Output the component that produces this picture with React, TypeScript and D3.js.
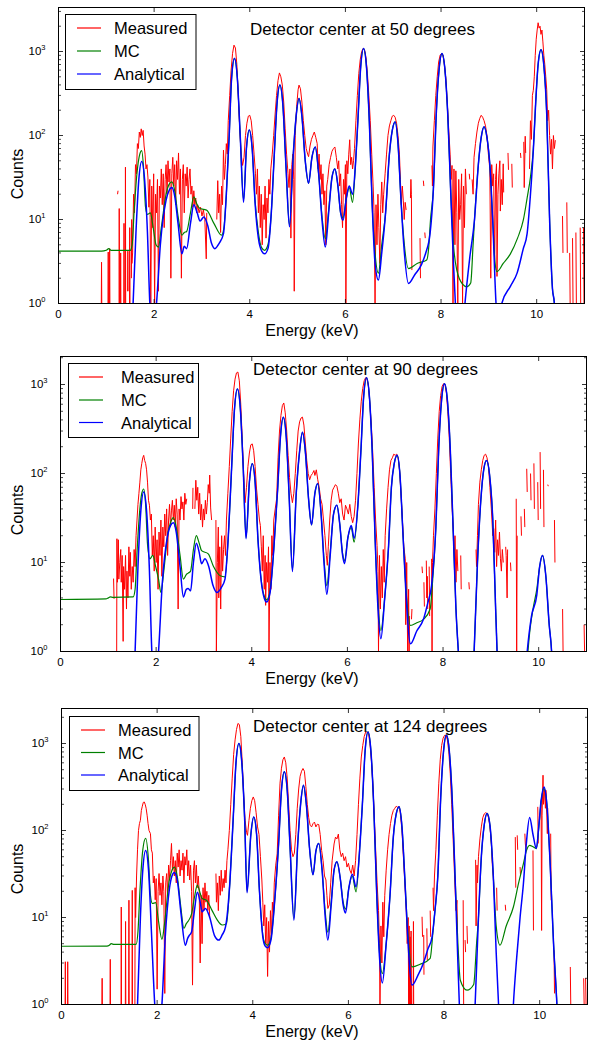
import React from "react";
import * as d3 from "d3";

type P = [number, number];

// ---------- text / categories ----------
const seriesNames = ["Measured", "MC", "Analytical"];
const panelTitles = [
  "Detector center at 50 degrees",
  "Detector center at 90 degrees",
  "Detector center at 124 degrees",
];
const xLabel = "Energy (keV)";
const yLabel = "Counts";
const xTicks = [0, 2, 4, 6, 8, 10];
const xDomain: [number, number] = [0, 11];
const yTickExps = [0, 1, 2, 3];

// ---------- 50 degrees ----------
const measured50: P[] = [
  [0.88,0],[0.895,1],[0.90,3.1],[0.905,1],[0.91,0],
  [1.03,0],[1.035,1],[1.04,4.1],[1.045,1],[1.05,0],[1.065,1],[1.07,4.5],[1.075,1],[1.08,0],
  [1.22,0],[1.235,20],[1.245,22],[1.25,0],
  [1.265,0],[1.267,1],[1.27,13.5],[1.275,1],[1.28,0],
  [1.29,0],[1.295,1],[1.30,4],[1.305,1],[1.31,0],
  [1.36,0],[1.365,1],[1.37,9],[1.375,1],[1.38,0],
  [1.39,0],[1.395,1],[1.40,42],[1.405,1],[1.41,0],
  [1.44,0],[1.445,1.4],[1.45,4.2],[1.455,1.4],[1.46,0],
  [1.48,0],[1.485,1],[1.49,8],[1.495,1],[1.50,0],
  [1.52,0],[1.525,2],[1.53,10],[1.535,3],[1.55,4],[1.57,20],[1.59,12],[1.61,45],[1.63,35],[1.65,80],[1.67,70],[1.69,110],[1.71,95],[1.73,120],[1.75,100],[1.77,115],[1.79,75],[1.81,60],[1.83,40],[1.85,45],[1.87,32],[1.89,14],[1.91,30],[1.93,1],[1.95,25],[1.97,8],[1.99,35],[2.01,1],[2.03,20],[2.05,12],[2.07,30],[2.09,1.4],[2.11,25],[2.13,18],[2.15,40],[2.17,15],[2.19,35],[2.21,8],[2.23,30],[2.25,45],[2.27,20],[2.29,50],[2.31,28],[2.33,40],[2.35,2],[2.37,35],[2.39,55],[2.41,25],[2.43,45],[2.45,15],[2.47,50],[2.49,30],[2.51,62],[2.53,20],[2.55,40],[2.57,2],[2.59,30],[2.61,45],[2.63,12],[2.65,35],[2.67,25],[2.69,42],[2.71,18],[2.73,30],[2.75,40],[2.77,20],[2.79,25],[2.81,14],[2.83,22],[2.85,15],[2.87,18],[2.89,12],[2.91,15],[2.94,12],[2.97,14],[3.00,11],[3.03,13],[3.06,10],[3.09,3.4],[3.10,12],[3.12,0],
  [3.30,0],[3.31,10],[3.33,29],[3.35,12],[3.37,20],[3.39,7],[3.41,25],[3.43,15],[3.45,67],[3.47,30],[3.49,45],[3.51,80],[3.53,60],[3.55,150],[3.58,300],[3.61,600],[3.64,950],[3.67,1190],[3.70,1100],[3.73,700],[3.76,300],[3.79,120],[3.82,60],[3.85,44],[3.88,55],[3.91,100],[3.94,140],[3.97,170],[4.00,174],[4.03,150],[4.06,100],[4.09,60],[4.12,35],[4.14,20],[4.16,40],[4.18,12],[4.20,25],[4.22,8],[4.24,20],[4.26,5],[4.28,15],[4.30,10],[4.32,25],[4.34,6],[4.36,18],[4.38,12],[4.40,30],[4.42,20],[4.44,40],[4.47,60],[4.50,100],[4.53,180],[4.56,300],[4.59,450],[4.62,556],[4.65,500],[4.68,400],[4.71,250],[4.74,120],[4.77,60],[4.80,35],[4.82,24],[4.84,40],[4.86,6],[4.88,45],[4.90,60],[4.92,30],[4.93,1.4],[4.95,100],[4.98,220],[5.01,350],[5.03,398],[5.06,360],[5.09,250],[5.12,150],[5.15,100],[5.18,70],[5.21,60],[5.23,56],[5.26,75],[5.29,90],[5.32,100],[5.35,110],[5.38,95],[5.41,80],[5.43,40],[5.45,60],[5.47,30],[5.49,45],[5.51,20],[5.53,35],[5.55,15],[5.57,22],[5.59,5],[5.61,25],[5.63,30],[5.66,45],[5.69,55],[5.72,65],[5.75,70],[5.78,73],[5.81,55],[5.84,40],[5.86,50],[5.88,25],[5.90,35],[5.92,15],[5.94,8],[5.96,30],[5.98,20],[6.00,45],[6.01,1],[6.03,50],[6.05,35],[6.07,60],[6.09,89],[6.11,45],[6.13,55],[6.15,40],[6.17,50],[6.19,70],[6.22,150],[6.25,300],[6.28,550],[6.31,800],[6.34,1000],[6.37,1086],[6.40,1050],[6.43,850],[6.46,550],[6.49,300],[6.52,150],[6.55,60],[6.58,25],[6.60,12],[6.62,1],[6.64,15],[6.66,5],[6.68,20],[6.70,8],[6.72,3],[6.74,15],[6.76,28],[6.78,12],[6.80,20],[6.83,35],[6.86,60],[6.89,100],[6.92,130],[6.95,150],[6.98,170],[7.01,174],[7.04,165],[7.07,140],[7.10,100],[7.13,60],[7.15,30],[7.17,15],[7.19,25],[7.21,17],[7.23,10],[7.25,16],[7.27,13],[7.29,0],
  [7.35,0],[7.36,18],[7.37,30],[7.38,20],[7.39,2.5],[7.40,0],
  [7.55,0],[7.56,6],[7.57,2],[7.58,0],
  [7.62,0],[7.63,29],[7.64,25],[7.65,0],[7.66,7],[7.67,6],[7.68,0],
  [7.80,0],[7.81,44],[7.82,25],[7.83,73],[7.86,150],[7.89,300],[7.92,500],[7.95,750],[7.98,900],[8.01,946],[8.04,900],[8.07,700],[8.10,480],[8.13,250],[8.16,120],[8.19,60],[8.21,30],[8.23,44],[8.25,1],[8.27,40],[8.29,5],[8.31,38],[8.33,12],[8.35,1],[8.37,30],[8.39,10],[8.41,15],[8.43,35],[8.45,1],[8.47,25],[8.49,8],[8.51,40],[8.53,20],[8.55,0],
  [8.58,0],[8.59,35],[8.60,30],[8.61,0],
  [8.64,0],[8.65,30],[8.67,20],[8.69,55],[8.72,80],[8.75,110],[8.78,140],[8.81,160],[8.84,174],[8.87,165],[8.90,150],[8.93,130],[8.96,100],[8.99,60],[9.02,40],[9.04,2],[9.06,45],[9.08,25],[9.10,35],[9.12,2.5],[9.14,30],[9.16,46],[9.17,2.1],[9.19,20],[9.21,35],[9.23,50],[9.24,12.6],[9.26,30],[9.28,15],[9.30,46],[9.31,21],[9.33,0],
  [9.39,0],[9.40,62],[9.41,39],[9.42,0],
  [9.47,0],[9.48,46],[9.49,24],[9.50,0],
  [9.65,0],[9.66,62],[9.67,54],[9.68,0],
  [9.72,0],[9.73,84],[9.74,24],[9.76,98],[9.77,62],[9.79,0],
  [9.84,0],[9.85,40],[9.87,150],[9.89,90],[9.91,300],[9.93,346],[9.95,500],[9.97,900],[9.99,1400],[10.01,1800],[10.03,2200],[10.05,1900],[10.07,2000],[10.09,1600],[10.11,1800],[10.13,1300],[10.15,900],[10.17,700],[10.19,500],[10.21,350],[10.23,150],[10.25,200],[10.27,100],[10.29,60],[10.31,90],[10.33,40],[10.35,100],[10.37,70],[10.39,88],[10.41,0],
  [10.53,0],[10.54,11],[10.55,4],[10.56,0],
  [10.62,0],[10.63,16],[10.64,4],[10.65,0],
  [10.68,0],[10.69,4],[10.70,1],[10.71,0],
  [10.74,0],[10.75,6],[10.76,1],[10.77,0],
  [10.81,0],[10.82,7],[10.83,1],[10.84,0],
  [10.90,0],[10.91,8],[10.92,1],[10.93,0],
  [10.97,0],[10.98,8],[10.99,1],
];
const mc50: P[] = [
  [0,4.2],[0.90,4.2],[1.00,4.3],[1.05,4.5],[1.10,4.3],[1.50,4.3],[1.54,5],[1.58,12],[1.64,35],[1.70,60],[1.74,66],[1.78,40],[1.82,14],[1.86,11.5],[1.92,12],[1.98,8],[2.04,5],[2.09,4.7],[2.15,8],[2.25,20],[2.31,26],[2.37,28],[2.43,22],[2.50,11],[2.58,6.5],[2.63,7],[2.68,7.2],[2.76,12],[2.83,18.6],[2.90,15],[2.96,13.5],[3.04,13.2],[3.10,12.9],[3.25,9],[3.41,6.5],[3.46,8],[3.51,20],[3.57,100],[3.62,480],[3.68,826],[3.74,480],[3.80,100],[3.87,17],[3.93,70],[3.99,116],[4.05,70],[4.11,17],[4.18,7],[4.25,4.6],[4.31,4.3],[4.38,5],[4.45,12],[4.51,55],[4.57,240],[4.63,398],[4.69,240],[4.76,40],[4.83,8.6],[4.91,60],[4.97,170],[5.03,276],[5.09,170],[5.16,50],[5.23,27],[5.30,55],[5.37,73],[5.44,35],[5.51,11],[5.58,5.9],[5.65,13],[5.72,32],[5.78,40],[5.84,26],[5.90,12],[5.95,10.5],[6.02,18],[6.08,24],[6.15,16],[6.21,45],[6.26,147],[6.32,660],[6.38,1086],[6.44,660],[6.50,147],[6.56,15],[6.62,4],[6.69,2.3],[6.76,5],[6.84,12],[6.92,60],[6.98,115],[7.04,145],[7.10,80],[7.16,18],[7.22,6],[7.32,2.6],[7.50,3.0],[7.70,3.3],[7.74,4.5],[7.78,10],[7.84,23],[7.90,180],[7.96,620],[8.02,946],[8.08,620],[8.14,180],[8.20,23],[8.26,5],[8.33,2.5],[8.45,1.7],[8.54,1.58],[8.62,1.75],[8.67,5],[8.70,10],[8.78,45],[8.84,95],[8.90,127],[8.96,95],[9.02,45],[9.08,10],[9.13,3],[9.17,2.4],[9.30,3],[9.45,3.9],[9.60,6],[9.72,9.8],[9.80,18],[9.87,32],[9.93,70],[9.98,250],[10.03,700],[10.09,1050],[10.15,680],[10.21,180],[10.27,10],[10.33,1.5],[10.37,1],[10.45,0.05],[11,0.0001],
];
const analytical50: P[] = [
  [0,0.001],[1.40,0.01],[1.50,0.2],[1.56,1],[1.62,7],[1.68,30],[1.74,49],[1.80,30],[1.86,7],[1.91,1],[1.98,0.4],[2.05,1],[2.13,5],[2.25,17],[2.31,22],[2.37,24],[2.43,19],[2.50,9],[2.58,3.9],[2.63,4.8],[2.68,4.5],[2.76,9],[2.83,15],[2.90,12],[2.96,9.6],[3.04,10.7],[3.12,8.5],[3.20,5.2],[3.27,4.5],[3.36,5.2],[3.45,6.8],[3.51,20],[3.57,100],[3.62,480],[3.68,826],[3.74,480],[3.80,100],[3.87,16],[3.93,70],[3.99,116],[4.05,70],[4.11,16],[4.18,6],[4.25,4.2],[4.31,3.9],[4.38,4.5],[4.45,12],[4.51,55],[4.57,240],[4.63,398],[4.69,240],[4.76,40],[4.83,8.2],[4.91,60],[4.97,170],[5.03,276],[5.09,170],[5.16,50],[5.23,27],[5.30,55],[5.37,73],[5.44,35],[5.51,10],[5.58,4.7],[5.65,12],[5.72,32],[5.78,40],[5.84,26],[5.90,12],[5.95,9.8],[6.02,18],[6.08,25],[6.15,20],[6.21,45],[6.26,147],[6.32,660],[6.38,1086],[6.44,660],[6.50,147],[6.56,15],[6.62,3],[6.69,1.9],[6.76,4],[6.84,12],[6.92,60],[6.98,115],[7.04,145],[7.10,80],[7.16,18],[7.22,5],[7.32,1.73],[7.45,2.2],[7.59,2.9],[7.68,4],[7.77,6.8],[7.84,23],[7.90,180],[7.96,620],[8.02,946],[8.08,620],[8.14,180],[8.20,23],[8.26,3],[8.30,1],[8.40,0.2],[8.50,1],[8.60,3.5],[8.70,10],[8.78,45],[8.84,95],[8.90,127],[8.96,95],[9.02,45],[9.08,10],[9.15,1],[9.21,0.5],[9.27,1],[9.45,1.6],[9.59,2.3],[9.72,4.5],[9.80,6.8],[9.87,20],[9.93,67],[9.98,250],[10.03,700],[10.09,1050],[10.15,680],[10.21,180],[10.27,10],[10.33,1.5],[10.37,1],[10.45,0.05],[11,0.0001],
];

// ---------- 90 degrees ----------
const measured90: P[] = [
  [1.10,0],[1.11,6.6],[1.12,3.9],[1.13,0],
  [1.17,0],[1.175,1],[1.18,18.5],[1.19,6],[1.21,18],[1.22,6.5],[1.24,10],[1.26,14],[1.27,6],[1.29,12],[1.31,1.3],[1.32,9],[1.34,5],[1.36,12],[1.38,3],[1.39,8],[1.41,4],[1.43,15],[1.45,7],[1.46,13],[1.48,5],[1.50,9],[1.52,6],[1.54,14],[1.56,9],[1.58,20],[1.60,30],[1.62,45],[1.64,60],[1.66,80],[1.68,110],[1.70,130],[1.72,150],[1.74,160],[1.76,140],[1.78,130],[1.80,110],[1.82,80],[1.84,50],[1.86,44],[1.88,30],[1.90,35],[1.92,12],[1.94,20],[1.96,8],[1.98,25],[2.00,10],[2.02,18],[2.04,5],[2.06,22],[2.08,12],[2.10,30],[2.12,7],[2.14,25],[2.16,15],[2.18,35],[2.20,20],[2.22,40],[2.24,12],[2.26,30],[2.28,45],[2.30,25],[2.32,38],[2.34,50],[2.36,30],[2.38,44],[2.40,25],[2.42,52],[2.44,35],[2.46,3],[2.48,40],[2.50,30],[2.52,55],[2.54,40],[2.56,48],[2.58,30],[2.60,60],[2.62,45],[2.64,52],[2.66,0],
  [2.76,0],[2.765,40],[2.77,69],[2.78,0],
  [2.80,0],[2.81,40],[2.83,84],[2.85,50],[2.87,70],[2.89,35],[2.91,60],[2.93,30],[2.95,45],[2.97,25],[2.99,40],[3.01,30],[3.03,50],[3.05,35],[3.07,47],[3.09,75],[3.11,60],[3.12,96],[3.14,41],[3.16,30],[3.18,0],
  [3.24,0],[3.25,30],[3.26,1],[3.28,10],[3.30,25],[3.31,4],[3.33,15],[3.35,3],[3.37,20],[3.39,8],[3.41,14],[3.43,20],[3.45,12],[3.47,30],[3.50,60],[3.53,120],[3.56,250],[3.59,500],[3.62,850],[3.65,1150],[3.68,1350],[3.71,1380],[3.74,1100],[3.77,600],[3.80,250],[3.83,100],[3.86,47],[3.89,70],[3.92,120],[3.95,170],[3.98,210],[4.01,215],[4.04,180],[4.07,120],[4.10,67],[4.13,45],[4.16,30],[4.18,26],[4.20,15],[4.22,8],[4.24,20],[4.26,5],[4.28,12],[4.29,3.3],[4.31,10],[4.33,6],[4.35,15],[4.36,1],[4.38,10],[4.40,5],[4.42,20],[4.44,12],[4.46,30],[4.49,40],[4.52,52],[4.55,150],[4.58,300],[4.61,450],[4.64,580],[4.67,620],[4.70,480],[4.73,300],[4.76,160],[4.79,90],[4.82,60],[4.85,47],[4.88,60],[4.91,100],[4.94,180],[4.97,300],[5.00,380],[5.03,420],[5.06,430],[5.09,350],[5.12,220],[5.15,140],[5.18,100],[5.21,85],[5.24,95],[5.27,100],[5.30,108],[5.32,95],[5.35,110],[5.38,85],[5.41,70],[5.44,52],[5.47,45],[5.50,30],[5.53,20],[5.56,12],[5.58,9.3],[5.60,15],[5.63,30],[5.66,50],[5.69,65],[5.72,70],[5.75,75],[5.78,72],[5.81,60],[5.84,47],[5.87,52],[5.90,35],[5.93,30],[5.96,44],[5.99,40],[6.02,35],[6.05,45],[6.08,33],[6.11,28],[6.14,33],[6.17,50],[6.20,100],[6.23,220],[6.26,400],[6.29,650],[6.32,900],[6.35,1100],[6.38,1190],[6.41,1150],[6.44,950],[6.47,600],[6.50,350],[6.53,170],[6.56,70],[6.59,30],[6.62,15.5],[6.64,8],[6.65,1],[6.67,12],[6.69,3],[6.71,9],[6.73,4],[6.75,14],[6.77,6],[6.79,20],[6.82,40],[6.85,70],[6.88,110],[6.91,140],[6.94,150],[6.97,165],[7.00,160],[7.03,165],[7.06,150],[7.09,110],[7.12,60],[7.15,30],[7.18,15],[7.21,11],[7.22,2],[7.24,10],[7.26,1],[7.28,5],[7.29,1],[7.30,2.5],[7.31,0],
  [7.33,0],[7.34,2.3],[7.35,3],[7.36,0],
  [7.55,0],[7.56,9],[7.57,7.6],[7.58,0],
  [7.59,0],[7.60,6],[7.61,3.2],[7.62,0],
  [7.64,0],[7.65,10.5],[7.66,4],[7.67,7],[7.68,3],[7.69,0],
  [7.70,0],[7.71,9],[7.72,2.5],[7.73,0],
  [7.75,0],[7.76,11],[7.77,1],[7.78,10],[7.80,20],[7.83,40],[7.86,100],[7.89,250],[7.92,500],[7.95,750],[7.98,950],[8.01,1020],[8.04,1000],[8.07,800],[8.10,500],[8.13,250],[8.16,100],[8.19,40],[8.22,20],[8.24,11],[8.25,20],[8.27,6],[8.29,14],[8.31,8],[8.33,0],
  [8.36,0],[8.37,12],[8.38,5],[8.39,0],
  [8.53,0],[8.54,6],[8.55,5],[8.56,0],
  [8.68,0],[8.69,14],[8.70,9],[8.72,20],[8.74,45],[8.77,80],[8.80,110],[8.83,140],[8.86,160],[8.89,165],[8.92,150],[8.95,120],[8.98,70],[9.01,40],[9.04,20],[9.06,24],[9.08,13],[9.10,30],[9.12,9],[9.14,18],[9.16,12],[9.18,22],[9.20,11],[9.22,8],[9.24,14],[9.26,10],[9.28,0],
  [9.30,0],[9.31,15],[9.32,12],[9.34,4],[9.35,14],[9.36,0],
  [9.40,0],[9.41,10],[9.42,8],[9.43,0],
  [9.52,0],[9.53,52],[9.54,1],[9.55,20],[9.56,0],
  [9.62,0],[9.63,33],[9.64,20],[9.65,0],
  [9.69,0],[9.70,40],[9.71,25],[9.72,0],
  [9.74,0],[9.75,113],[9.76,62],[9.77,0],
  [9.82,0],[9.83,100],[9.84,50],[9.85,0],
  [9.89,0],[9.90,130],[9.91,40],[9.92,0],
  [9.97,0],[9.98,80],[9.99,30],[10.00,0],
  [10.02,0],[10.03,174],[10.04,40],[10.05,0],
  [10.09,0],[10.10,110],[10.11,25],[10.12,0],
  [10.18,0],[10.19,75],[10.20,72],[10.21,0],
  [10.32,0],[10.33,30],[10.34,10],[10.35,0],
  [10.49,0],[10.50,3],[10.51,1],[10.52,0],
  [10.94,0],[10.95,2],[10.96,1],[10.97,0],
];
const mc90: P[] = [
  [0,3.84],[0.95,3.9],[1.00,4.0],[1.04,4.1],[1.10,4.05],[1.52,4.1],[1.56,5],[1.60,13],[1.66,40],[1.70,60],[1.74,67],[1.78,45],[1.82,16],[1.87,11],[1.93,12],[1.99,9],[2.05,6.5],[2.10,4.6],[2.16,8],[2.25,22],[2.31,29],[2.36,32],[2.42,25],[2.50,12],[2.57,6.5],[2.63,7.3],[2.67,7.6],[2.72,8],[2.78,14],[2.84,20],[2.90,16.5],[2.95,13.6],[3.09,12.5],[3.20,9],[3.34,7.1],[3.44,6.9],[3.51,20],[3.58,120],[3.64,540],[3.70,890],[3.76,540],[3.82,120],[3.88,19],[3.95,80],[4.01,129],[4.07,80],[4.13,18],[4.20,6.2],[4.26,4.2],[4.31,3.8],[4.38,4.7],[4.46,14],[4.54,65],[4.60,260],[4.66,428],[4.72,260],[4.78,58],[4.85,8.3],[4.93,60],[5.00,177],[5.06,290],[5.12,177],[5.19,50],[5.25,26.5],[5.32,60],[5.38,77],[5.45,35],[5.51,11],[5.57,5.5],[5.64,13],[5.71,35],[5.78,44],[5.84,27],[5.90,12.5],[5.94,10.5],[6.01,19],[6.08,25],[6.14,16.9],[6.22,45],[6.28,170],[6.34,730],[6.40,1190],[6.46,730],[6.52,170],[6.58,18],[6.64,3.5],[6.70,1.72],[6.78,4],[6.86,15],[6.92,70],[6.98,130],[7.04,160],[7.10,95],[7.16,22],[7.22,5.5],[7.32,1.96],[7.45,2.1],[7.59,2.3],[7.73,3.0],[7.78,6],[7.85,25],[7.91,194],[7.97,673],[8.03,1020],[8.09,673],[8.15,194],[8.21,25],[8.27,3],[8.32,1],[8.45,0.1],[8.55,0.1],[8.65,1],[8.72,10],[8.79,50],[8.85,110],[8.91,140],[8.97,100],[9.04,30],[9.10,3],[9.13,1],[9.20,0.05],[9.60,0.05],[9.76,0.8],[9.82,1.8],[9.90,3.4],[9.96,5.0],[10.02,9],[10.08,12],[10.15,7],[10.22,2],[10.27,1],[10.35,0.05],[11,0.0001],
];
const analytical90: P[] = [
  [0,0.001],[1.40,0.01],[1.50,0.2],[1.56,1],[1.62,9],[1.68,38],[1.74,62],[1.80,38],[1.86,8],[1.91,1],[1.98,0.4],[2.05,1],[2.13,6],[2.24,20],[2.30,26],[2.36,28],[2.42,22],[2.50,9],[2.57,4.1],[2.63,5],[2.67,5.1],[2.72,4.8],[2.78,10],[2.84,16.5],[2.90,13],[2.95,9.7],[3.02,11],[3.10,9],[3.19,5.5],[3.27,4.6],[3.36,5.2],[3.44,6.5],[3.51,20],[3.58,120],[3.64,540],[3.70,890],[3.76,540],[3.82,120],[3.88,18.5],[3.95,80],[4.01,129],[4.07,80],[4.13,18],[4.20,6],[4.26,4],[4.31,3.6],[4.38,4.5],[4.46,14],[4.54,65],[4.60,260],[4.66,428],[4.72,260],[4.78,58],[4.85,7.9],[4.93,60],[5.00,177],[5.06,290],[5.12,177],[5.19,50],[5.25,26.5],[5.32,60],[5.38,77],[5.45,35],[5.51,10],[5.57,4.4],[5.64,12],[5.71,35],[5.78,44],[5.84,27],[5.90,12],[5.94,9.7],[6.01,19],[6.08,26],[6.14,18.7],[6.22,45],[6.28,170],[6.34,730],[6.40,1190],[6.46,730],[6.52,170],[6.58,18],[6.64,3],[6.70,1.39],[6.78,4],[6.86,15],[6.92,70],[6.98,130],[7.04,160],[7.10,95],[7.16,22],[7.22,5],[7.32,1.22],[7.45,1.7],[7.59,2.3],[7.68,3.5],[7.76,5.5],[7.85,25],[7.91,194],[7.97,673],[8.03,1020],[8.09,673],[8.15,194],[8.21,25],[8.27,3],[8.32,1],[8.45,0.1],[8.55,0.1],[8.65,1],[8.72,10],[8.79,50],[8.85,110],[8.91,140],[8.97,100],[9.04,30],[9.10,3],[9.13,1],[9.20,0.05],[9.60,0.05],[9.76,1],[9.85,2.5],[9.96,4.3],[10.02,9],[10.08,12],[10.15,7],[10.22,2],[10.27,1],[10.35,0.05],[11,0.0001],
];

// ---------- 124 degrees ----------
const measured124: P[] = [
  [0.07,0],[0.075,1],[0.08,3.1],[0.085,1],[0.09,0],
  [0.12,0],[0.125,1],[0.13,3.1],[0.135,1],[0.14,0],
  [0.84,0],[0.845,1],[0.85,2.0],[0.855,1],[0.86,0],
  [1.01,0],[1.015,1],[1.02,3.3],[1.025,1],[1.03,0],
  [1.24,0],[1.245,1],[1.25,13.2],[1.255,1],[1.26,0],
  [1.33,0],[1.335,1],[1.34,9],[1.345,1],[1.35,0],
  [1.40,0],[1.405,1],[1.41,15.8],[1.415,1],[1.42,0],
  [1.47,0],[1.475,1],[1.48,20.5],[1.485,1],[1.49,0],
  [1.53,0],[1.535,1],[1.54,22],[1.55,10],[1.57,30],[1.59,60],[1.61,100],[1.63,120],[1.65,131],[1.67,170],[1.69,190],[1.71,210],[1.73,213],[1.75,200],[1.77,180],[1.79,150],[1.81,120],[1.83,100],[1.86,92],[1.88,60],[1.90,55],[1.92,25],[1.94,30],[1.96,16],[1.98,28],[2.00,1.5],[2.02,20],[2.04,32],[2.06,18],[2.08,25],[2.10,14],[2.12,30],[2.14,20],[2.16,1.34],[2.18,25],[2.20,32],[2.22,18],[2.24,40],[2.26,28],[2.28,45],[2.30,71],[2.32,35],[2.34,50],[2.36,30],[2.38,45],[2.40,25],[2.42,55],[2.44,38],[2.46,60],[2.48,30],[2.50,45],[2.52,35],[2.54,55],[2.56,25],[2.58,50],[2.60,40],[2.62,60],[2.64,30],[2.66,45],[2.68,27],[2.70,40],[2.72,20],[2.74,1.67],[2.76,35],[2.78,45],[2.80,25],[2.82,40],[2.84,22],[2.86,30],[2.88,20],[2.90,3],[2.92,18],[2.94,5],[2.96,22],[2.98,12],[3.00,25],[3.02,15],[3.04,20],[3.06,12],[3.08,18],[3.10,10],[3.12,0],
  [3.22,0],[3.23,32],[3.24,15],[3.26,25],[3.28,12],[3.30,30],[3.32,18],[3.34,35],[3.36,20],[3.38,28],[3.40,22],[3.42,35],[3.44,25],[3.46,45],[3.48,60],[3.51,100],[3.54,200],[3.57,400],[3.60,750],[3.63,1100],[3.66,1450],[3.69,1700],[3.72,1650],[3.75,1200],[3.78,600],[3.81,250],[3.84,130],[3.87,95],[3.89,88],[3.92,130],[3.95,180],[3.98,220],[4.01,243],[4.04,220],[4.07,160],[4.10,110],[4.13,90],[4.16,50],[4.19,27],[4.21,15],[4.23,8],[4.25,14],[4.27,5],[4.29,10],[4.31,2.1],[4.33,9],[4.35,4],[4.37,12],[4.39,6],[4.41,15],[4.43,10],[4.45,25],[4.48,40],[4.51,54],[4.54,150],[4.57,350],[4.60,520],[4.63,650],[4.66,700],[4.69,600],[4.72,400],[4.75,200],[4.78,100],[4.81,60],[4.84,50],[4.87,55],[4.90,90],[4.93,180],[4.96,300],[4.99,420],[5.02,480],[5.05,516],[5.08,480],[5.11,320],[5.14,200],[5.17,140],[5.20,115],[5.23,110],[5.26,120],[5.29,125],[5.32,110],[5.35,118],[5.38,117],[5.41,90],[5.44,59],[5.47,45],[5.50,30],[5.53,27],[5.55,18],[5.57,12.7],[5.60,14],[5.63,25],[5.66,45],[5.70,70],[5.73,84],[5.76,80],[5.79,91],[5.82,60],[5.85,50],[5.88,55],[5.91,45],[5.94,50],[5.97,38],[6.00,42],[6.03,35],[6.06,32],[6.09,40],[6.12,30],[6.15,45],[6.18,90],[6.21,200],[6.24,400],[6.27,700],[6.30,950],[6.33,1200],[6.36,1350],[6.39,1360],[6.42,1300],[6.45,1000],[6.48,650],[6.51,350],[6.54,150],[6.57,60],[6.60,25],[6.63,12],[6.65,5],[6.66,1],[6.68,8],[6.70,3],[6.72,15],[6.74,6],[6.76,18],[6.79,35],[6.82,60],[6.85,90],[6.88,120],[6.91,150],[6.94,170],[6.97,180],[7.00,190],[7.03,185],[7.06,187],[7.09,150],[7.12,100],[7.15,50],[7.18,25],[7.21,12],[7.23,5],[7.25,10],[7.26,1],[7.27,8],[7.28,1],[7.29,6],[7.30,1],[7.31,7],[7.32,1],[7.33,0],
  [7.35,0],[7.355,1],[7.36,9],[7.365,1],[7.37,0],
  [7.53,0],[7.54,10.2],[7.55,6],[7.56,0],
  [7.57,0],[7.575,6.3],[7.58,2.2],[7.59,0],
  [7.63,0],[7.64,7.5],[7.65,3.2],[7.66,0],
  [7.70,0],[7.71,12],[7.72,6],[7.73,0],
  [7.76,0],[7.77,22],[7.78,12],[7.80,30],[7.83,60],[7.86,150],[7.89,350],[7.92,650],[7.95,950],[7.98,1150],[8.01,1240],[8.04,1245],[8.07,1100],[8.10,800],[8.13,450],[8.16,200],[8.19,80],[8.22,30],[8.25,12],[8.27,15.8],[8.28,6.3],[8.30,0],
  [8.39,0],[8.40,15.8],[8.41,1],[8.42,0],
  [8.43,0],[8.44,5.5],[8.45,4],[8.46,0],
  [8.47,0],[8.48,8],[8.49,5],[8.50,0],
  [8.65,0],[8.66,46],[8.67,8],[8.69,40],[8.70,25],[8.72,50],[8.75,80],[8.78,110],[8.81,140],[8.84,155],[8.87,160],[8.90,157],[8.93,140],[8.96,110],[8.99,70],[9.01,40],[9.03,30],[9.04,22],[9.05,0],
  [9.09,0],[9.10,22],[9.11,12],[9.12,0],
  [9.27,0],[9.28,14],[9.29,12],[9.30,0],
  [9.48,0],[9.49,84],[9.50,22],[9.51,0],
  [9.52,0],[9.53,88],[9.54,60],[9.55,0],
  [9.58,0],[9.59,38],[9.60,30],[9.61,0],
  [9.68,0],[9.69,92],[9.70,70],[9.72,59],[9.73,0],
  [9.85,0],[9.86,59],[9.87,7.1],[9.88,0],
  [9.95,0],[9.96,187],[9.97,71],[9.98,0],
  [10.02,0],[10.03,222],[10.04,7.1],[10.05,150],[10.07,432],[10.08,200],[10.10,300],[10.12,180],[10.13,290],[10.14,220],[10.16,92],[10.17,180],[10.19,0],
  [10.22,0],[10.23,92],[10.24,15.8],[10.25,0],
  [10.29,0],[10.30,4.2],[10.31,1.34],[10.32,0],
  [10.63,0],[10.64,2.7],[10.65,1],[10.66,0],
  [10.91,0],[10.92,2.0],[10.93,1],[10.94,0],
  [10.95,0],[10.96,2.0],[10.97,1],[10.98,0],
];
const mc124: P[] = [
  [0,4.67],[0.95,4.7],[1.00,4.8],[1.04,5.0],[1.10,4.9],[1.56,4.9],[1.60,7],[1.64,20],[1.70,60],[1.76,81],[1.82,45],[1.86,18],[1.90,14.5],[1.97,14.8],[2.03,9],[2.10,5.6],[2.16,9],[2.25,26],[2.31,35],[2.36,38],[2.42,30],[2.49,14],[2.56,7.5],[2.61,8.5],[2.65,9.1],[2.72,11],[2.78,17],[2.84,23.5],[2.90,19],[2.94,16.5],[3.03,15.8],[3.15,12],[3.25,9.5],[3.36,8.2],[3.45,8.5],[3.52,25],[3.59,135],[3.65,610],[3.71,1000],[3.77,610],[3.83,135],[3.88,20],[3.96,90],[4.02,143],[4.08,90],[4.14,20],[4.21,6.3],[4.26,5],[4.31,4.8],[4.38,5.8],[4.46,16],[4.54,70],[4.60,290],[4.66,472],[4.72,290],[4.78,64],[4.86,9.8],[4.94,70],[5.00,200],[5.06,331],[5.12,200],[5.19,60],[5.26,31],[5.32,58],[5.38,71],[5.45,35],[5.51,12.5],[5.57,6.8],[5.64,15],[5.70,35],[5.76,43.6],[5.83,28],[5.89,15],[5.94,12.5],[6.01,22],[6.08,30],[6.16,19.7],[6.23,55],[6.29,190],[6.35,830],[6.41,1360],[6.47,830],[6.53,190],[6.59,20],[6.65,4],[6.71,2.27],[6.79,5],[6.87,18],[6.94,85],[7.00,155],[7.06,187],[7.12,110],[7.18,28],[7.24,7],[7.33,2.7],[7.50,2.9],[7.71,3.4],[7.77,7],[7.81,12],[7.87,30],[7.93,236],[7.99,820],[8.05,1245],[8.11,820],[8.17,236],[8.23,30],[8.29,5],[8.34,1.9],[8.48,1.46],[8.62,1.7],[8.68,5],[8.72,10],[8.78,50],[8.84,115],[8.90,157],[8.96,115],[9.03,30],[9.09,8],[9.17,4.8],[9.30,8],[9.45,13.2],[9.56,25],[9.66,41.6],[9.72,58],[9.79,67.5],[9.86,65],[9.93,62],[9.98,105],[10.03,215],[10.09,305],[10.15,200],[10.22,40],[10.29,5],[10.36,1],[10.45,0.05],[11,0.0001],
];
const analytical124: P[] = [
  [0,0.001],[1.45,0.01],[1.53,0.2],[1.59,1],[1.65,10],[1.70,35],[1.76,59],[1.82,35],[1.88,7],[1.95,1],[2.02,0.4],[2.10,1],[2.17,6],[2.26,22],[2.31,30],[2.36,33],[2.42,27],[2.50,11],[2.59,4.8],[2.64,5.8],[2.68,6.3],[2.72,6.8],[2.78,12],[2.84,19.5],[2.90,15],[2.94,11.6],[3.01,12.7],[3.10,10],[3.20,6.2],[3.29,5.5],[3.36,6.3],[3.43,7.8],[3.52,25],[3.59,135],[3.65,610],[3.71,1000],[3.77,610],[3.83,135],[3.88,19.2],[3.96,90],[4.02,143],[4.08,90],[4.14,20],[4.21,6],[4.26,4.7],[4.31,4.5],[4.38,5.5],[4.46,16],[4.54,70],[4.60,290],[4.66,472],[4.72,290],[4.78,64],[4.86,9.3],[4.94,70],[5.00,200],[5.06,331],[5.12,200],[5.19,60],[5.26,31],[5.32,58],[5.38,71],[5.45,35],[5.51,11],[5.57,5.5],[5.64,14],[5.70,35],[5.76,43.6],[5.83,28],[5.89,14],[5.94,11.3],[6.01,22],[6.08,31.5],[6.16,22.5],[6.23,55],[6.29,190],[6.35,830],[6.41,1360],[6.47,830],[6.53,190],[6.59,20],[6.65,3.5],[6.71,1.77],[6.79,5],[6.87,18],[6.94,85],[7.00,155],[7.06,187],[7.12,110],[7.18,28],[7.24,6],[7.33,1.67],[7.46,2.2],[7.57,3.0],[7.66,4.3],[7.75,6.0],[7.81,12],[7.87,30],[7.93,236],[7.99,820],[8.05,1245],[8.11,820],[8.17,236],[8.23,30],[8.29,3],[8.32,1],[8.45,0.1],[8.55,0.1],[8.65,1],[8.72,10],[8.78,50],[8.84,115],[8.90,157],[8.96,115],[9.03,30],[9.09,4],[9.14,1],[9.25,0.05],[9.35,0.05],[9.45,1],[9.52,3.5],[9.59,10],[9.66,24.6],[9.72,70],[9.79,141],[9.86,90],[9.93,62],[9.98,110],[10.03,220],[10.09,316],[10.15,200],[10.22,40],[10.29,5],[10.36,1],[10.45,0.05],[11,0.0001],
];

const panelSeries: P[][][] = [
  [measured50, mc50, analytical50],
  [measured90, mc90, analytical90],
  [measured124, mc124, analytical124],
];

// ---------- layout & style (not data) ----------
const seriesColors = ["#ff0000", "#008000", "#0000ff"];
const seriesWidths = [1, 1.2, 1.5];
const FONT = "'Liberation Sans', Arial, Helvetica, sans-serif";
const layouts = [
  { left: 58.5, right: 584.5, top: 7.5, bottom: 303.5, decadePx: 84, titleX: 250, titleY: 34.5,
    legend: { x: 65.5, y: 14.5, w: 130.5, h: 75, rows: [28, 51, 74], lx1: 77, lx2: 101, tx: 114 }, countsY: 174 },
  { left: 60.5, right: 586.5, top: 356.5, bottom: 651.5, decadePx: 89, titleX: 253, titleY: 375,
    legend: { x: 68.5, y: 363.5, w: 130, h: 74, rows: [377, 400, 422.5], lx1: 79, lx2: 103, tx: 121 }, countsY: 510 },
  { left: 61.5, right: 587.5, top: 708.5, bottom: 1004.5, decadePx: 87, titleX: 253, titleY: 731.5,
    legend: { x: 69.5, y: 716.5, w: 129.5, h: 74, rows: [730, 752.5, 775], lx1: 81, lx2: 105, tx: 118 }, countsY: 869 },
];

function Panel({ idx }: { idx: number }) {
  const lay = layouts[idx];
  const series = panelSeries[idx];
  const x = d3.scaleLinear().domain(xDomain).range([lay.left, lay.right]);
  const yMax = Math.pow(10, (lay.bottom - lay.top) / lay.decadePx);
  const y = d3.scaleLog().domain([1, yMax]).range([lay.bottom, lay.top]);

  const smooth = d3
    .line<P>()
    .x((d) => x(d[0]))
    .y((d) => y(Math.max(d[1], 1e-4)))
    .curve(d3.curveMonotoneX);
  const rough = d3
    .line<P>()
    .defined((d) => d[1] > 0)
    .x((d) => x(d[0]))
    .y((d) => y(d[1]));

  const minor: number[] = [];
  for (const e of yTickExps) {
    for (let m = 2; m <= 9; m++) {
      const v = m * Math.pow(10, e);
      if (v < yMax) minor.push(v);
    }
  }
  const clipId = `clip${idx}`;
  const L = lay.legend;

  return (
    <g>
      <defs>
        <clipPath id={clipId}>
          <rect x={lay.left} y={lay.top} width={lay.right - lay.left} height={lay.bottom - lay.top} />
        </clipPath>
      </defs>
      <g clipPath={`url(#${clipId})`} fill="none" strokeLinejoin="round">
        <path d={rough(series[0]) || ""} stroke={seriesColors[0]} strokeWidth={seriesWidths[0]} />
        <path d={smooth(series[1]) || ""} stroke={seriesColors[1]} strokeWidth={seriesWidths[1]} />
        <path d={smooth(series[2]) || ""} stroke={seriesColors[2]} strokeWidth={seriesWidths[2]} />
      </g>
      <rect x={lay.left} y={lay.top} width={lay.right - lay.left} height={lay.bottom - lay.top} fill="none" stroke="#000" strokeWidth={1} />
      {xTicks.map((t) => (
        <g key={`xt${t}`}>
          <line x1={x(t)} x2={x(t)} y1={lay.bottom} y2={lay.bottom - 4.5} stroke="#000" strokeWidth={0.8} />
          <line x1={x(t)} x2={x(t)} y1={lay.top} y2={lay.top + 4.5} stroke="#000" strokeWidth={0.8} />
          <text x={x(t)} y={lay.bottom + 14} fontSize={11.5} textAnchor="middle" fontFamily={FONT}>{t}</text>
        </g>
      ))}
      {yTickExps.map((e) => {
        const yy = y(Math.pow(10, e));
        return (
          <g key={`yt${e}`}>
            <line x1={lay.left} x2={lay.left + 4.5} y1={yy} y2={yy} stroke="#000" strokeWidth={0.8} />
            <line x1={lay.right} x2={lay.right - 4.5} y1={yy} y2={yy} stroke="#000" strokeWidth={0.8} />
            <text x={lay.left - 13} y={yy + 3.8} fontSize={11.5} textAnchor="end" fontFamily={FONT}>
              10
              <tspan fontSize={7.5} dy={-5}>{e}</tspan>
            </text>
          </g>
        );
      })}
      {minor.map((v, i) => (
        <g key={`mt${i}`}>
          <line x1={lay.left} x2={lay.left + 2.5} y1={y(v)} y2={y(v)} stroke="#000" strokeWidth={0.7} />
          <line x1={lay.right} x2={lay.right - 2.5} y1={y(v)} y2={y(v)} stroke="#000" strokeWidth={0.7} />
        </g>
      ))}
      <text x={312} y={lay.bottom + 32} fontSize={16} textAnchor="middle" fontFamily={FONT}>{xLabel}</text>
      <text transform={`translate(17,${lay.countsY}) rotate(-90)`} fontSize={16} textAnchor="middle" dy="0.35em" fontFamily={FONT}>{yLabel}</text>
      <text x={lay.titleX} y={lay.titleY} fontSize={17} fontFamily={FONT}>{panelTitles[idx]}</text>
      <rect x={L.x} y={L.y} width={L.w} height={L.h} fill="#fff" stroke="#000" strokeWidth={1} />
      {seriesNames.map((n, i) => (
        <g key={n}>
          <line x1={L.lx1} x2={L.lx2} y1={L.rows[i]} y2={L.rows[i]} stroke={seriesColors[i]} strokeWidth={1.2} />
          <text x={L.tx} y={L.rows[i] + 6} fontSize={16.5} fontFamily={FONT}>{n}</text>
        </g>
      ))}
    </g>
  );
}

export default function App() {
  return (
    <svg width={597} height={1049} style={{ position: "absolute", left: 0, top: 0, background: "#fff" }}>
      <rect x={0} y={0} width={597} height={1049} fill="#fff" />
      {layouts.map((_, i) => (
        <Panel key={i} idx={i} />
      ))}
    </svg>
  );
}
